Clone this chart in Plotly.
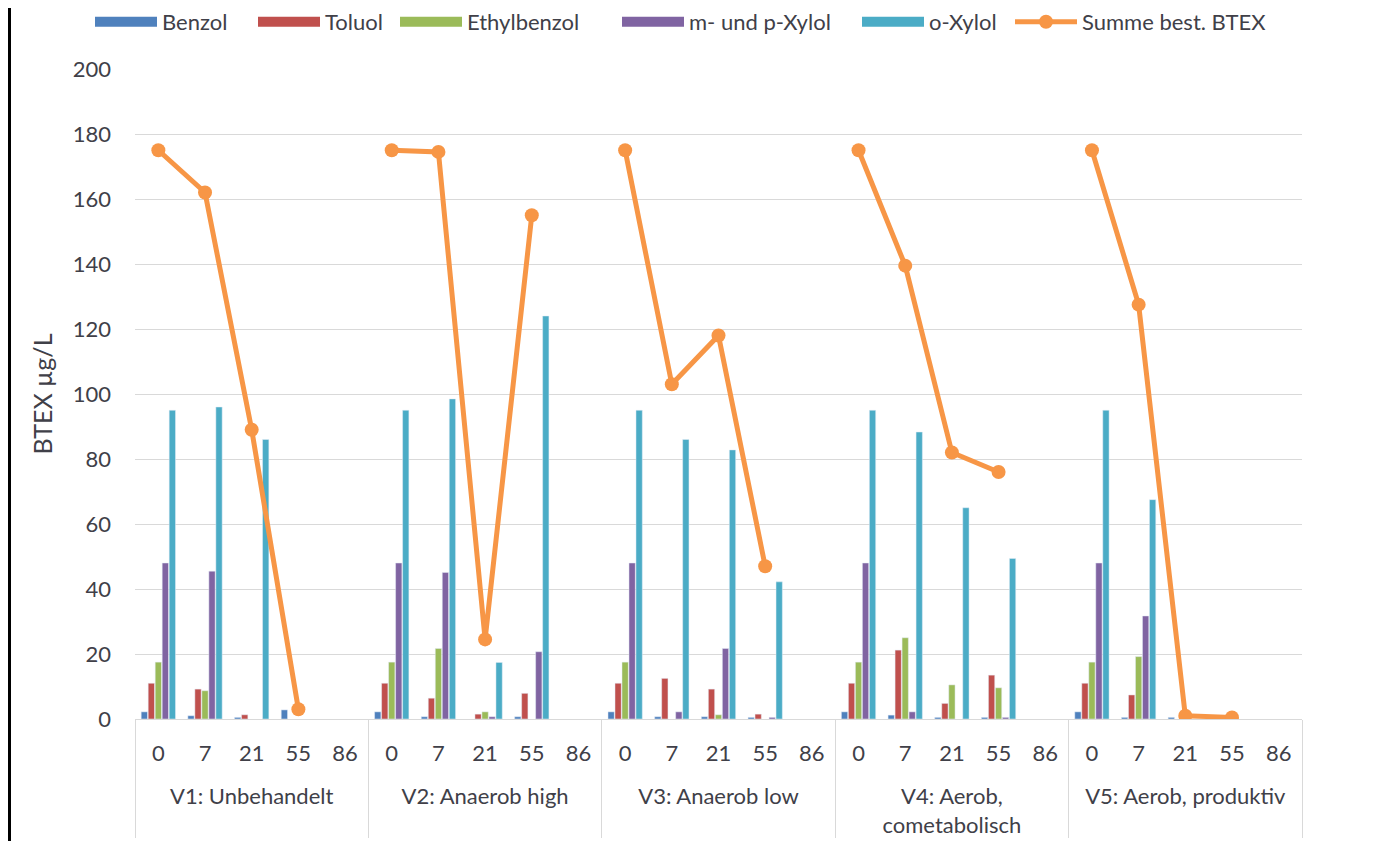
import plotly.graph_objects as go

groups = ["V1: Unbehandelt", "V2: Anaerob high", "V3: Anaerob low",
          "V4: Aerob,<br>cometabolisch", "V5: Aerob, produktiv"]
days = ["0", "7", "21", "55", "86"]

benzol = [2.2, 1.0, 0.5, 2.8, None,
          2.2, 0.7, None, 0.7, None,
          2.2, 0.7, 0.7, 0.5, None,
          2.2, 1.2, 0.5, 0.5, None,
          2.2, 0.5, 0.5, None, None]
toluol = [11, 9.2, 1.3, None, None,
          11, 6.4, 1.5, 7.9, None,
          11, 12.5, 9.2, 1.5, None,
          11, 21.2, 4.8, 13.5, None,
          11, 7.4, None, None, None]
ethylbenzol = [17.5, 8.7, None, None, None,
               17.5, 21.7, 2.2, None, None,
               17.5, None, 1.3, None, None,
               17.5, 25, 10.5, 9.6, None,
               17.5, 19.2, None, None, None]
mp_xylol = [48, 45.5, None, None, None,
            48, 45.1, 0.7, 20.7, None,
            48, 2.2, 21.7, 0.5, None,
            48, 2.2, None, 0.5, None,
            48, 31.7, None, None, None]
o_xylol = [95, 96, 86, None, None,
           95, 98.5, 17.4, 124, None,
           95, 86, 82.8, 42.2, None,
           95, 88.3, 65, 49.4, None,
           95, 67.5, None, None, None]
summe = [175, 162, 89, 3, None,
         175, 174.5, 24.5, 155, None,
         175, 103, 118, 47, None,
         175, 139.5, 82, 76, None,
         175, 127.5, 1, 0.5, None]

names = ["Benzol", "Toluol", "Ethylbenzol", "m- und p-Xylol", "o-Xylol"]
colors = ["#4F81BD", "#C0504D", "#9BBB59", "#8064A2", "#4BACC6"]
series = [benzol, toluol, ethylbenzol, mp_xylol, o_xylol]

# figure geometry (page body adds an 8px offset)
W, H = 1388, 841
L, R, T, B = 127, 94, 61, 130
PW = W - L - R

x_outer = ["<br>" + g for g in groups for _ in days]
x_inner = [d for _ in groups for d in days]
x = [x_outer, x_inner]

legend_ids = ["legend", "legend2", "legend3", "legend4", "legend5", "legend6"]
legend_px = [82, 245, 387, 609, 849, 1002]

fig = go.Figure()
for name, col, vals in zip(names, colors, series):
    fig.add_trace(go.Bar(x=x, y=vals, name=name, marker_color=col,
                         showlegend=False))
for i, (name, col) in enumerate(zip(names, colors)):
    fig.add_trace(go.Scatter(x=x, y=[None] * len(x_inner), mode="lines",
                             name=name, legend=legend_ids[i],
                             line=dict(color=col, width=10)))
fig.add_trace(go.Scatter(x=x, y=summe, mode="lines+markers",
                         name="Summe best. BTEX", connectgaps=False,
                         legend=legend_ids[5],
                         line=dict(color="#F79646", width=5),
                         marker=dict(color="#F79646", size=14)))

font = "Lato, 'Open Sans', sans-serif"
txt = "#404048"
legends = {}
for lid, px in zip(legend_ids, legend_px):
    legends[lid] = dict(orientation="h", xref="paper", x=(px - L) / PW,
                        xanchor="left", yref="container", y=1 - 14 / H,
                        yanchor="middle", itemwidth=62,
                        font=dict(size=22, color=txt),
                        bgcolor="rgba(0,0,0,0)")

fig.update_layout(
    width=W, height=H,
    margin=dict(l=L, r=R, t=T, b=B),
    paper_bgcolor="white", plot_bgcolor="white",
    barmode="group", bargap=0.25, bargroupgap=0.1,
    font=dict(family=font, size=22, color=txt),
    xaxis=dict(type="multicategory", range=[-0.5, 24.5], automargin=False,
               showline=True, linecolor="#D9D9D9",
               linewidth=1, showgrid=False, ticks="",
               ticklabelstandoff=15,
               dividercolor="#D9D9D9", dividerwidth=1,
               tickfont=dict(size=22, color=txt)),
    yaxis=dict(range=[0, 200], dtick=20, showgrid=True, gridcolor="#D9D9D9",
               gridwidth=1, zeroline=False, showline=False, automargin=False,
               tickfont=dict(size=22, color=txt), ticklabelstandoff=23,
               title=dict(text="BTEX µg/L", font=dict(size=25, color=txt),
                          standoff=12)),
    shapes=[
        dict(type="line", xref="paper", yref="paper",
             x0=(1.5 - L) / PW, x1=(1.5 - L) / PW, y0=-0.25, y1=1.12,
             line=dict(color="black", width=3)),
        dict(type="line", xref="paper", yref="paper",
             x0=(1376 - L) / PW, x1=(1376 - L) / PW, y0=-0.25, y1=1.12,
             line=dict(color="black", width=3)),
    ],
    **legends,
)
fig.write_html("out.html")
